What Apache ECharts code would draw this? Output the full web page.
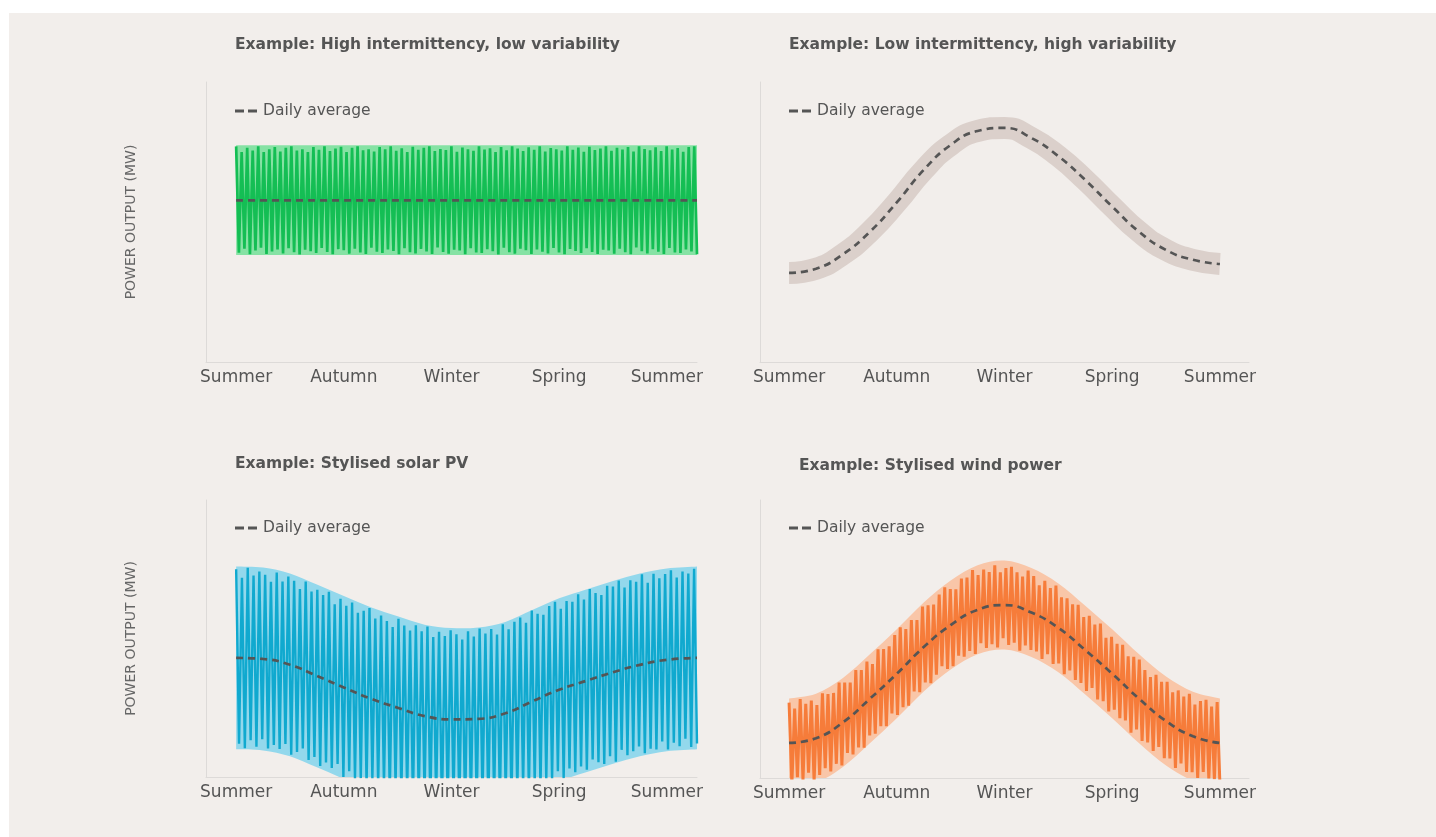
<!DOCTYPE html>
<html>
<head>
<meta charset="utf-8">
<title>Intermittency and variability</title>
<script src="https://cdn.jsdelivr.net/npm/echarts@6/dist/echarts.min.js"></script>
<style>
  html, body { margin: 0; padding: 0; background: #fff; }
  .panel { position: absolute; left: 9px; top: 13px; right: 0; bottom: 0; background: #f2eeeb; }
  #chart { position: absolute; left: 0; top: 0; width: 1436px; height: 837px; }
</style>
</head>
<body>
<div class="panel"></div>
<div id="chart"></div>
<script>
const seasons = ['Summer', 'Autumn', 'Winter', 'Spring', 'Summer'];
const seasonTicks = [0, 1, 2, 3, 4];

// high intermittency, low variability
const flatX = [0, 4.28];
const flatAvg = [57.7, 57.7];
const flatTop = [77.4, 77.4];
const flatBottom = [38.2, 38.2];
const flatHighs = [
  77, 75, 76.5, 75.5, 77, 75, 76, 76.8, 75.2, 76.5, 77, 75.5,
  76, 75, 76.8, 75.8, 77, 75.3, 76.2, 76.9, 75, 76.5, 77, 75.6,
  76, 75.2, 76.8, 76, 77, 75.4, 76.3, 75, 76.9, 75.8, 76.5, 77,
  75.3, 76.1, 75.7, 77, 75.1, 76.6, 76, 75.4, 77, 75.9, 76.3, 75,
  76.8, 75.6, 77, 76.2, 75.3, 76.7, 75.8, 77, 75.2, 76.4, 76, 75.5,
  77, 75.8, 76.6, 75.1, 76.9, 75.7, 76.2, 77, 75.4, 76.5, 75.9, 76.8,
  75.2, 77, 76.1, 75.6, 76.7, 75.3, 77, 75.9, 76.4, 75.1, 76.8, 77
];
const flatLows = [
  39, 40.5, 38.5, 39.8, 40.8, 38.6, 39.5, 40.2, 38.8, 40.6, 39.2, 38.4,
  40.1, 39.6, 38.9, 40.7, 39.3, 38.5, 40.3, 39.9, 38.7, 40.5, 39.1, 38.6,
  40.8, 39.4, 38.9, 40.2, 39.7, 38.5, 40.6, 39.2, 38.8, 40.4, 39.5, 38.6,
  40.9, 39.3, 38.7, 40.1, 39.8, 38.5, 40.6, 39.1, 38.9, 40.3, 39.6, 38.4,
  40.8, 39.2, 38.7, 40.5, 39.9, 38.6, 40.2, 39.4, 38.8, 40.7, 39.1, 38.5,
  40.4, 39.7, 38.9, 40.6, 39.3, 38.6, 40.1, 39.8, 38.7, 40.5, 39.2, 38.5,
  40.9, 39.6, 38.8, 40.3, 39.4, 38.6, 40.7, 39.1, 38.9, 40.2, 39.5, 38.5
];

// low intermittency, high variability
const seasonalX = [0, 0.25, 0.5, 0.75, 1, 1.25, 1.5, 1.75, 2, 2.25, 2.5, 2.75, 3, 3.25, 3.5, 3.75, 4];
const seasonalAvg = [31.8, 33.3, 38.5, 46.5, 57, 68.6, 77.5, 82.5, 83.6, 80, 73.5, 65, 55.5, 46.5, 40, 36.5, 35];

// stylised solar PV
const solarX = [0, 0.25, 0.5, 0.75, 1, 1.25, 1.5, 1.75, 2, 2.25, 2.5, 2.75, 3, 3.25, 3.5, 3.75, 4, 4.28];
const solarAvg = [43, 42.6, 40.5, 36.5, 32.3, 28.3, 25, 22, 20.8, 21, 23, 27.3, 31.5, 34.7, 37.8, 40.5, 42.3, 43];
const solarTop = [76, 75.6, 73.5, 69.5, 65.3, 61.3, 58, 55, 53.8, 54, 56, 60.3, 64.5, 67.7, 70.8, 73.5, 75.3, 76];
const solarBottom = [10, 9.6, 7.5, 3.5, -0.7, -4.7, -8, -11, -12.2, -12, -10, -5.7, -1.5, 1.7, 4.8, 7.5, 9.3, 10];
const solarHighs = [
  75, 71.9, 75.5, 72.7, 74.2, 73, 70.5, 73.8, 70.6, 72.4,
  70.8, 67.9, 70.6, 67, 67.6, 65.7, 66.9, 62.4, 64.3, 61.8,
  63, 59.3, 60, 61, 57.2, 58.3, 56.3, 54.1, 57.1, 54.7,
  52.9, 54.8, 52.6, 54.3, 50.5, 52.4, 50.9, 53, 51.5, 49.6,
  52.6, 50.7, 53.6, 51.8, 53.4, 51.4, 55.1, 53.3, 56, 57.6,
  55.7, 60.1, 58.9, 58.6, 61.7, 63.3, 60.7, 63.5, 63.3, 66,
  64.1, 67.9, 66.4, 65.7, 69, 68.8, 70.9, 68.4, 71, 70.5,
  73.2, 70.1, 73.4, 71.7, 73.3, 74.6, 72, 74.2, 73.5, 75.2
];
const solarLows = [
  12, 10.4, 13.3, 10.9, 13.6, 10.3, 11.6, 10.1, 11.9, 8,
  9, 10.3, 6.1, 7.2, 4, 5.2, 3.3, 4.7, 0, 2.1,
  -0.7, -0.5, -3.1, -0.7, -3.5, -3.2, -6.3, -3.3, -6.6, -5.8,
  -8.6, -7.6, -6.8, -10.1, -8.1, -11.1, -9.9, -8.5, -10.9, -11.7,
  -9.1, -10, -7.5, -10.6, -8.2, -9, -6.4, -8.7, -5.7, -3.1,
  -5.2, -2.3, -3.9, -1.1, -0.9, 2.1, -0.5, 3.1, 1.7, 3.8,
  2.6, 6.3, 5.3, 4.7, 7.5, 5.5, 9.8, 7.9, 9.3, 11,
  8.6, 10.2, 9.9, 12.8, 9.9, 12.4, 11.1, 13.8, 10.8, 12.1
];

// stylised wind power
const windX = [0, 0.25, 0.5, 0.75, 1, 1.25, 1.5, 1.75, 2, 2.25, 2.5, 2.75, 3, 3.25, 3.5, 3.75, 4];
const windAvg = [12.6, 14.3, 20, 28.5, 37.5, 47.1, 55, 60.5, 62.2, 59.5, 54, 46, 37.5, 28.5, 20.5, 15, 12.6];
const windTop = [28.6, 30.3, 36, 44.5, 53.5, 63.1, 71, 76.5, 78.2, 75.5, 70, 62, 53.5, 44.5, 36.5, 31, 28.6];
const windBottom = [-3.4, -1.7, 4, 12.5, 21.5, 31.1, 39, 44.5, 46.2, 43.5, 38, 30, 21.5, 12.5, 4.5, -1, -3.4];
const windHighs = [
  27.1, 25, 28.4, 26.7, 27.9, 26.2, 30.5, 30.2, 30.6, 34.3,
  34.3, 34.3, 38.8, 38.8, 41.9, 41, 46.3, 46.4, 47.4, 51.4,
  54.2, 53.6, 56.8, 56.8, 61.7, 62.1, 62.4, 66, 68.6, 68,
  67.9, 71.7, 72.1, 74.8, 73, 75, 74.1, 76.5, 74, 75.5,
  76, 74, 72.5, 74.6, 72.6, 69.3, 70.9, 68.3, 69.2, 65,
  64.6, 62.5, 62.3, 57.9, 58.3, 55.2, 55.6, 50.4, 50.8, 48.3,
  47.9, 43.8, 43.6, 42.6, 38.8, 36.3, 37.1, 34.6, 34.6, 30.8,
  31.5, 29.3, 30.3, 26.4, 27.7, 28.1, 25.7, 27.3
];
const windLows = [
  -2.3, 0.3, -0.7, 1.9, -1.2, 1.1, 3.5, 2.4, 5.1, 4.5,
  9, 8.5, 11, 10.9, 15.3, 15.9, 18.6, 18.6, 23.2, 22.7,
  25.5, 26, 31.1, 30.9, 34.4, 34.1, 37.2, 40.2, 39.2, 40.2,
  44, 43.6, 45.7, 44.6, 48.5, 46.8, 48.1, 47, 50.3, 47.9,
  48.7, 45.8, 47.7, 46.1, 45.5, 42.8, 44.5, 41, 41.2, 37.3,
  38.7, 35.3, 34.2, 31.3, 32.4, 28.3, 27.6, 23.9, 24.6, 21.5,
  20.7, 16.3, 17.5, 13.3, 12.8, 9.7, 11.2, 7.1, 7, 3.6,
  5.2, 2.2, 2.1, 0, 2.2, -0.2, -0.4, -2.3
];

const textColor = '#555';
const font = 'DejaVu Sans';
const avgName = 'Daily average';

function pairs (xs, ys) {
  return xs.map((x, i) => [x, ys[i]]);
}

// daily swing: peak, trough, peak ... spread evenly over the x range
function zigzag (highs, lows, x0, x1) {
  const n = Math.min(highs.length, lows.length);
  const step = (x1 - x0) / (2 * n - 1);
  const pts = [];
  for (let i = 0; i < n; i++) {
    pts.push([x0 + 2 * i * step, highs[i]]);
    pts.push([x0 + (2 * i + 1) * step, lows[i]]);
  }
  return pts;
}

// smooth path through pixel points (catmull-rom -> bezier)
function curvePath (pts, start) {
  let d = (start ? 'M' : 'L') + pts[0][0] + ',' + pts[0][1];
  for (let i = 0; i < pts.length - 1; i++) {
    const p0 = pts[Math.max(i - 1, 0)];
    const p1 = pts[i];
    const p2 = pts[i + 1];
    const p3 = pts[Math.min(i + 2, pts.length - 1)];
    const c1 = [p1[0] + (p2[0] - p0[0]) / 6, p1[1] + (p2[1] - p0[1]) / 6];
    const c2 = [p2[0] - (p3[0] - p1[0]) / 6, p2[1] - (p3[1] - p1[1]) / 6];
    d += 'C' + c1.join(',') + ' ' + c2.join(',') + ' ' + p2.join(',');
  }
  return d;
}

function bandSeries (idx, xs, top, bottom, color) {
  return {
    type: 'custom',
    xAxisIndex: idx,
    yAxisIndex: idx,
    clip: true,
    silent: true,
    z: 1,
    data: pairs(xs, top),
    renderItem (params, api) {
      if (params.dataIndex !== 0) return null;
      const upper = xs.map((x, i) => api.coord([x, top[i]]));
      const lower = xs.map((x, i) => api.coord([x, bottom[i]])).reverse();
      const d = curvePath(upper, true) + curvePath(lower, false) + 'Z';
      return { type: 'path', shape: { pathData: d }, style: { fill: color } };
    }
  };
}

function spikeSeries (idx, data, color, width) {
  return {
    type: 'line', xAxisIndex: idx, yAxisIndex: idx,
    data, symbol: 'none', silent: true, z: 3,
    lineStyle: { color, width }
  };
}

function avgSeries (idx, data) {
  return {
    name: avgName, type: 'line', xAxisIndex: idx, yAxisIndex: idx,
    data, smooth: true, symbol: 'none', silent: true, z: 4,
    itemStyle: { color: textColor },
    lineStyle: { color: textColor, width: 2.7, type: [7, 5] }
  };
}

const grids = [
  { left: 206, top: 82, width: 491, height: 280 },
  { left: 760, top: 82, width: 489, height: 280 },
  { left: 206, top: 500, width: 491, height: 277 },
  { left: 760, top: 500, width: 489, height: 278 }
];
const xRanges = [[-0.28, 4.28], [-0.27, 4.27], [-0.28, 4.28], [-0.27, 4.27]];

const axisColor = '#dddad8';

const option = {
  animation: false,
  title: [
    { text: 'Example: High intermittency, low variability', left: 235, top: 37 },
    { text: 'Example: Low intermittency, high variability', left: 789, top: 37 },
    { text: 'Example: Stylised solar PV', left: 235, top: 456 },
    { text: 'Example: Stylised wind power', left: 799, top: 458 }
  ].map(t => Object.assign(t, {
    padding: 0,
    textStyle: { fontSize: 15.5, fontWeight: 'bold', color: textColor, fontFamily: font }
  })),
  legend: [
    { left: 235, top: 103 },
    { left: 789, top: 103 },
    { left: 235, top: 520 },
    { left: 789, top: 520 }
  ].map(l => Object.assign(l, {
    data: [avgName],
    padding: 0,
    selectedMode: false,
    icon: 'path://M0,0H9V3H0ZM13,0H22V3H13Z',
    itemWidth: 24,
    itemHeight: 3,
    textStyle: { color: textColor, fontSize: 15.5, fontFamily: font }
  })),
  grid: grids,
  xAxis: xRanges.map((r, i) => ({
    gridIndex: i, type: 'value', min: r[0], max: r[1],
    axisLine: { show: true, onZero: false, lineStyle: { color: axisColor, width: 1 } },
    axisTick: { show: false },
    splitLine: { show: false },
    axisLabel: {
      customValues: seasonTicks,
      formatter: v => seasons[Math.round(v)],
      color: textColor, fontSize: 17, fontFamily: font, margin: 7
    }
  })),
  yAxis: grids.map((g, i) => ({
    gridIndex: i, type: 'value', min: 0, max: 100,
    axisLine: { show: true, onZero: false, lineStyle: { color: axisColor, width: 1 } },
    axisTick: { show: false },
    axisLabel: { show: false },
    splitLine: { show: false },
    name: i % 2 === 0 ? 'POWER OUTPUT (MW)' : '',
    nameLocation: 'middle',
    nameRotate: 90,
    nameGap: 68,
    nameTextStyle: { color: '#666', fontSize: 14, fontFamily: font }
  })),
  series: [
    bandSeries(0, flatX, flatTop, flatBottom, '#86e2a4'),
    spikeSeries(0, zigzag(flatHighs, flatLows, 0, 4.28), '#14be54', 2.7),
    avgSeries(0, pairs(flatX, flatAvg)),

    {
      type: 'line', xAxisIndex: 1, yAxisIndex: 1,
      data: pairs(seasonalX, seasonalAvg), smooth: true, symbol: 'none', silent: true, z: 2,
      lineStyle: { color: '#dbd0cb', width: 22, cap: 'butt' }
    },
    avgSeries(1, pairs(seasonalX, seasonalAvg)),

    bandSeries(2, solarX, solarTop, solarBottom, '#93d8ec'),
    spikeSeries(2, zigzag(solarHighs, solarLows, 0, 4.28), '#10a9cf', 2.4),
    avgSeries(2, pairs(solarX, solarAvg)),

    bandSeries(3, windX, windTop, windBottom, '#f9c6a8'),
    spikeSeries(3, zigzag(windHighs, windLows, 0, 4), '#f67c3a', 3),
    avgSeries(3, pairs(windX, windAvg))
  ]
};

const myChart = echarts.init(document.getElementById('chart'));
myChart.setOption(option);
</script>
</body>
</html>
